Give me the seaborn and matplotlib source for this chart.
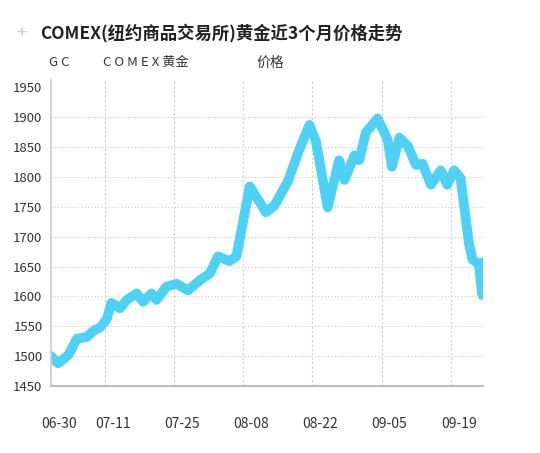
import matplotlib
matplotlib.use("Agg")
import matplotlib.pyplot as plt
import matplotlib.transforms as mtrans
import seaborn as sns
import pandas as pd

days = [0,1.5,3.6,5.3,7.3,8.6,10,11.3,12.3,14,15.4,17.4,18.7,20.4,21.4,23.4,25.5,27.8,30.2,32.2,33.9,36.2,37.6,40.3,43.6,45.3,48,50.4,52.4,53.7,56.1,58.4,59.5,61.5,62.5,63.8,66.2,68.2,69.1,70.6,72.3,74,75.3,77,79,80.3,81.7,83,84.7,85.4,86.7,87.4,87.5]
price = [1500,1488,1502,1529,1532,1542,1548,1561,1589,1580,1594,1605,1591,1605,1594,1616,1621,1610,1627,1638,1667,1659,1667,1784,1741,1752,1792,1847,1887,1860,1749,1828,1795,1836,1828,1874,1898,1863,1817,1866,1852,1820,1822,1787,1811,1787,1811,1798,1689,1662,1654,1602,1657]
tick_days = [0,11,25,39,53,67,81]
tick_labels = ["06-30","07-11","07-25","08-08","08-22","09-05","09-19"]
y_ticks = [1450,1500,1550,1600,1650,1700,1750,1800,1850,1900,1950]

sns.set_theme(style="white")
plt.rcParams['font.family'] = ['Noto Sans CJK SC', 'DejaVu Sans']

fig = plt.figure(figsize=(5.4, 4.53), dpi=100)
ax = fig.add_axes([0.094, 0.148, 0.80, 0.675])
df = pd.DataFrame({"day": days, "price": price})
sns.lineplot(data=df, x="day", y="price", ax=ax, color="#4fd0f5", linewidth=7,
             solid_joinstyle="round", solid_capstyle="round")
ax.set_xlim(0, 87.5)
ax.set_ylim(1450, 1962)
ax.set_yticks(y_ticks)
ax.set_yticklabels([str(v) for v in y_ticks], fontsize=9.5, color="#333333")
ax.set_xticks(tick_days)
ax.set_xticklabels(tick_labels, fontsize=10, color="#333333")
ax.tick_params(axis="x", pad=22, length=0)
ax.tick_params(axis="y", pad=6, length=0)
offset = mtrans.ScaledTranslation(0.08, 0, fig.dpi_scale_trans)
for lab in ax.get_xticklabels():
    lab.set_transform(lab.get_transform() + offset)
ax.set_xlabel("")
ax.set_ylabel("")
for v in y_ticks[1:-1]:
    ax.axhline(v, color="#c8c8c8", lw=0.8, ls=(0, (1, 2)), zorder=0)
for d in tick_days[1:]:
    ax.axvline(d, color="#cfcfcf", lw=0.8, ls=(0, (2, 2)), zorder=0)
for s in ["top", "right"]:
    ax.spines[s].set_visible(False)
ax.spines["left"].set_color("#cccccc")
ax.spines["bottom"].set_color("#bbbbbb")
ax.spines["bottom"].set_linewidth(1.5)

fig.text(0.03, 0.928, "+", fontsize=13, color="#cccccc", va="center")
fig.text(0.075, 0.928, "COMEX(纽约商品交易所)黄金近3个月价格走势", fontsize=12.5,
         fontweight="bold", color="#222222", va="center")
fig.text(0.09, 0.862, "G C", fontsize=9.5, color="#333333", va="center")
fig.text(0.19, 0.862, "C O M E X 黄金", fontsize=9.5, color="#333333", va="center")
fig.text(0.475, 0.862, "价格", fontsize=10, color="#333333", va="center")
fig.savefig("out.png", dpi=100, facecolor="white")
